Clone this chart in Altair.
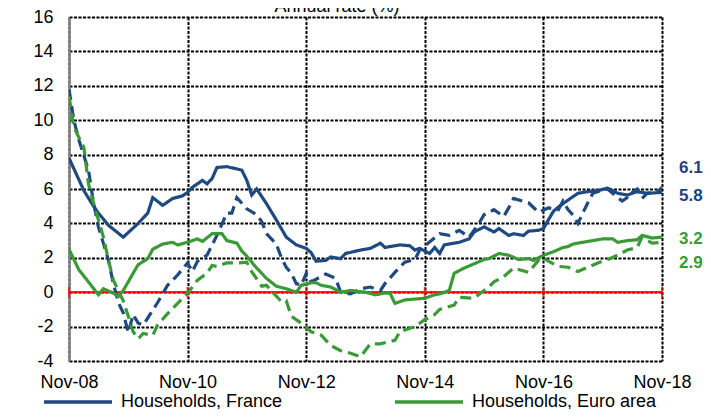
import altair as alt
import pandas as pd

# ---- data (months since Nov-2008, annual growth rate %) ----
hf_m = [0,3,5,6,8,11,14,16,17,19,21,23,24,25,27,28,29,30,32,35,36,37,38,40,42,44,46,48,49,50,52,53,55,56,59,61,63,64,67,69,70,71,73,74,75,76,79,81,82,84,86,87,89,90,92,93,95,96,97,98,99,100,103,105,107,109,111,113,115,117,120]
hf_v = [7.8,5.9,5.0,4.6,3.9,3.2,4.0,4.6,5.5,5.05,5.45,5.6,5.8,6.1,6.5,6.3,6.6,7.25,7.3,7.1,6.5,5.65,6.0,5.15,4.2,3.2,2.75,2.55,2.3,1.8,1.85,2.05,1.95,2.25,2.45,2.55,2.85,2.6,2.75,2.7,2.45,2.55,2.25,2.6,2.25,2.75,2.9,3.1,3.5,3.8,3.5,3.7,3.3,3.4,3.3,3.55,3.6,3.7,4.2,4.7,4.95,5.15,5.75,5.85,5.9,6.05,5.75,5.65,5.85,5.75,5.8]

nf_m = [0,1,2,4,5,6,8,9,10,11,12,13,14,15,16,18,20,22,24,25,26,28,30,32,33,34,36,38,39,40,42,43,44,45,46,47,48,49,52,54,55,57,59,61,63,64,66,68,70,71,72,75,77,79,81,83,84,86,88,89,90,93,95,97,99,100,101,102,103,105,106,108,109,111,112,113,114,115,116,117,119,120]
nf_v = [11.8,10.0,8.85,7.1,5.2,3.8,1.9,0.5,-0.6,-1.2,-2.35,-1.3,-1.8,-1.9,-1.5,-0.6,0.4,1.0,1.7,1.2,1.8,2.15,3.3,4.6,4.6,5.5,4.85,4.5,4.1,3.4,2.8,2.0,1.45,1.1,0.5,0.4,1.1,0.6,1.05,0.8,0.0,-0.1,0.2,0.3,0.1,0.5,1.15,1.75,1.9,2.45,2.7,3.4,3.3,3.6,3.2,4.0,4.5,4.8,4.4,4.9,5.45,5.2,4.65,4.9,4.8,5.3,4.8,4.5,4.0,5.2,5.75,5.95,6.0,5.5,5.3,5.5,5.8,6.0,5.45,5.75,5.8,6.1]

he_m = [0,2,4,6,7,9,10,11,13,14,16,17,19,21,22,24,26,27,29,31,32,34,35,36,38,39,40,42,44,46,47,49,50,51,53,55,57,60,62,64,65,66,68,70,72,74,75,77,78,80,82,84,85,87,89,91,93,94,96,98,100,101,102,104,106,108,110,111,113,115,116,118,120]
he_v = [2.5,1.3,0.6,-0.15,0.2,-0.05,-0.25,0.1,1.1,1.6,1.95,2.5,2.8,2.9,2.75,2.9,3.1,2.95,3.4,3.4,3.0,2.85,2.4,2.1,1.4,1.1,0.8,0.35,0.2,0.0,0.4,0.55,0.55,0.4,0.3,0.0,0.1,0.0,-0.15,-0.05,-0.05,-0.65,-0.45,-0.4,-0.35,-0.15,-0.1,0.1,1.1,1.4,1.65,1.9,1.95,2.25,2.15,1.9,1.95,1.85,2.15,2.35,2.6,2.65,2.8,2.9,3.0,3.1,3.1,2.9,3.0,3.05,3.3,3.15,3.2]

ne_m = [0,1,3,4,5,7,8,9,11,12,13,14,15,17,18,20,22,24,25,26,28,29,30,32,34,36,37,39,40,43,44,45,47,49,51,53,55,57,59,61,63,66,67,70,72,74,75,78,79,82,84,85,86,88,90,93,95,96,97,99,101,103,107,109,111,113,115,116,118,120]
ne_v = [11.4,9.6,8.4,6.3,5.2,3.2,1.9,0.7,-0.5,-1.4,-2.3,-2.7,-2.4,-2.5,-1.9,-1.25,-0.65,-0.05,0.3,0.7,1.1,1.55,1.5,1.7,1.7,1.75,1.2,0.35,0.4,-0.55,-0.5,-1.4,-1.8,-2.3,-2.5,-3.1,-3.4,-3.55,-3.75,-3.0,-3.0,-2.8,-2.3,-2.0,-1.6,-1.3,-1.0,-0.75,-0.3,-0.35,0.1,0.3,0.6,0.9,1.4,1.15,1.85,2.0,1.8,1.5,1.45,1.2,1.7,1.9,2.15,2.45,2.6,3.2,2.85,2.9]

series_names = ["Households, France", "Households, Euro area", "NFCs, France", "NFCs, Euro area"]
series_colors = ["#1F4A80", "#3A9A36", "#1F4A80", "#3A9A36"]
series_dash = [[1, 0], [1, 0], [11, 6], [11, 6]]

end_labels = ["6.1", "5.8", "3.2", "2.9"]
end_label_pos = [7.24, 5.58, 3.08, 1.72]
end_label_colors = ["#1F3F80", "#1F3F80", "#3A9A36", "#3A9A36"]

tick_years = [2008, 2010, 2012, 2014, 2016, 2018]
y_ticks = list(range(-4, 17, 2))

start = pd.Timestamp("2008-11-01")


def to_date(m):
    return (start + pd.DateOffset(months=int(m))).strftime("%Y-%m-%dT00:00:00")


rows = []
for name, ms, vs in [(series_names[0], hf_m, hf_v), (series_names[2], nf_m, nf_v),
                     (series_names[1], he_m, he_v), (series_names[3], ne_m, ne_v)]:
    for m, v in zip(ms, vs):
        rows.append({"date": to_date(m), "value": v, "series": name})
df = pd.DataFrame(rows)

FONT = "Liberation Sans"
x_dom = [alt.DateTime(year=2008, month=11, date=1), alt.DateTime(year=2018, month=11, date=1)]
x_vals = [alt.DateTime(year=y, month=11, date=1) for y in tick_years]

x_axis = alt.Axis(values=x_vals, format="%b-%y", labelFlush=False, labelOverlap=False,
                  grid=True, gridColor="#000000", gridDash=[3, 1.5], gridWidth=2,
                  domain=False, ticks=False, tickSize=0, labelPadding=12,
                  labelFontSize=18, labelFont=FONT, labelColor="#000000", title=None)
y_axis = alt.Axis(values=y_ticks, grid=True, gridColor="#000000", gridDash=[3, 1.5],
                  gridWidth=2, domain=True, domainColor="#808080", domainWidth=2.5,
                  ticks=False, tickSize=0, labelPadding=16, labelFontSize=18,
                  labelOverlap=False, labelExpr="'' + datum.value",
                  labelFont=FONT, labelColor="#000000", title=None)
x_scale = alt.Scale(domain=x_dom, nice=False)
y_scale = alt.Scale(domain=[-4, 16], nice=False)


def X():
    return alt.X("date:T", scale=x_scale, axis=x_axis)


def Y():
    return alt.Y("value:Q", scale=y_scale, axis=y_axis)


lines = alt.Chart(df).mark_line(strokeWidth=3.2, clip=True).encode(
    x=X(),
    y=Y(),
    color=alt.Color("series:N", scale=alt.Scale(domain=series_names, range=series_colors),
                    legend=alt.Legend(orient="none", legendX=-27, legendY=349, columns=2,
                                      direction="horizontal", title=None,
                                      symbolType="stroke", symbolSize=4624,
                                      symbolStrokeWidth=3.5, labelFontSize=18,
                                      labelFont=FONT, labelColor="#000000", labelOffset=7,
                                      columnPadding=105, rowPadding=6, padding=0,
                                      labelLimit=400)),
    strokeDash=alt.StrokeDash("series:N", scale=alt.Scale(domain=series_names, range=series_dash),
                              legend=None),
)

zero_df = pd.DataFrame({"value": [0]})
zero_line = alt.Chart(zero_df).mark_rule(color="#FF0000", strokeWidth=2).encode(y=Y())

tick_df = pd.DataFrame({"date": [to_date((y - 2008) * 12) for y in tick_years], "value": [0] * len(tick_years)})
zero_ticks = alt.Chart(tick_df).mark_tick(color="#FF0000", thickness=2, size=11, orient="vertical").encode(
    x=X(), y=Y())

lab_df = pd.DataFrame({"text": end_labels, "value": end_label_pos, "c": end_label_colors,
                       "date": [to_date(120)] * 4})
end_text = alt.Chart(lab_df).mark_text(align="left", baseline="middle", dx=17, fontSize=17,
                                       fontWeight="bold", font=FONT).encode(
    x=X(), y=Y(), text="text:N", color=alt.Color("c:N", scale=None))

title_df = pd.DataFrame({"t": ["Annual rate (%)"]})
title = alt.Chart(title_df).mark_text(fontSize=18, font=FONT, color="#000000", align="center",
                                      baseline="alphabetic").encode(
    x=alt.value(268), y=alt.value(-5), text="t:N")

chart = alt.layer(zero_line, zero_ticks, lines, end_text, title).resolve_scale(color="independent").properties(
    width=593, height=344,
    autosize=alt.AutoSizeParams(type="none"),
    padding={"left": 61, "top": 9, "right": 41, "bottom": 48},
).configure_view(stroke="#000000", strokeWidth=2).configure(background="white")

chart.save("out.html", embed_options={"renderer": "svg", "actions": False})
